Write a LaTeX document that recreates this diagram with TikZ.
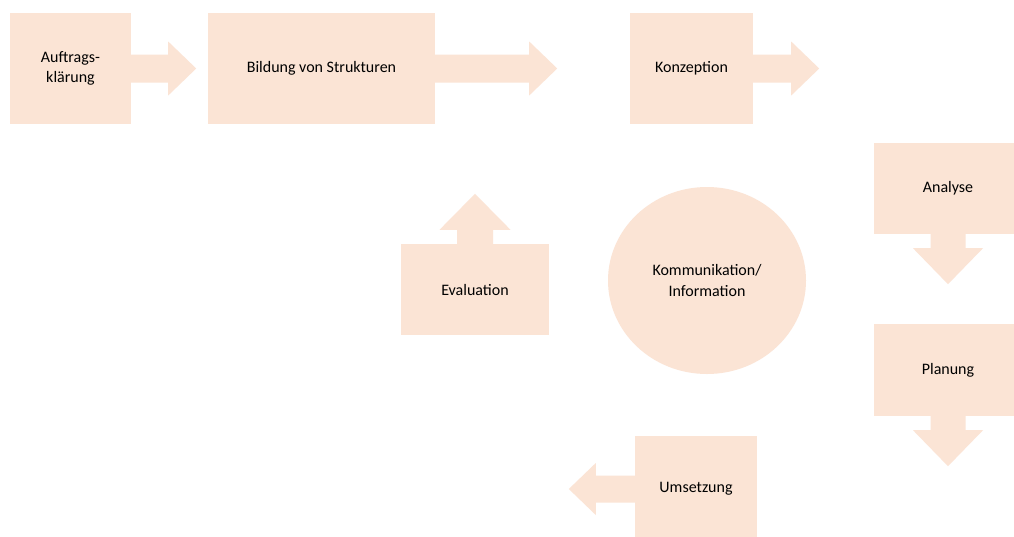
\documentclass[tikz,border=0pt]{standalone}
\usepackage{fontspec}
\setmainfont{Carlito}
\usetikzlibrary{shapes.geometric}
\definecolor{pfirsich}{HTML}{FBE4D5}

\begin{document}
\begin{tikzpicture}[x=1pt,y=-1pt,
    feld/.style={fill=pfirsich,inner sep=0pt,align=center,text=black,font=\fontsize{16}{20.5}\selectfont},
    pfeil/.style={fill=pfirsich}]
    \useasboundingbox (0,0) rectangle (1014,536);
    \clip (0,0) rectangle (1014,536);
    \fill[white] (0,0) rectangle (1014,536);

    % Felder
    \node[feld,minimum width=121pt,minimum height=111pt] (auftrag) at (70.5,68.5) {Auftrags-\\klärung};
    \node[feld,minimum width=227pt,minimum height=111pt] (bildung) at (321.5,68.5) {Bildung von Strukturen};
    \node[feld,minimum width=123pt,minimum height=111pt] (konzeption) at (691.5,68.5) {Konzeption};
    \node[feld,minimum width=148pt,minimum height=91pt] (analyse) at (948,188.5) {Analyse};
    \node[feld,minimum width=148pt,minimum height=92pt] (planung) at (948,370) {Planung};
    \node[feld,minimum width=122pt,minimum height=106pt] (umsetzung) at (696,489) {Umsetzung};
    \node[feld,minimum width=148pt,minimum height=91pt] (evaluation) at (475,289.5) {Evaluation};
    \node[feld,ellipse,minimum width=198pt,minimum height=187pt] (kommunikation) at (707,280.5) {Kommunikation/\\Information};

    % Pfeile
    \fill[pfeil] (auftrag.east) ++(-1,-14) -- ++(38,0) -- ++(0,-13) -- ++(28,27) -- ++(-28,27) -- ++(0,-13) -- ++(-38,0) -- cycle;
    \fill[pfeil] (bildung.east) ++(-1,-14) -- ++(95,0) -- ++(0,-13) -- ++(28,27) -- ++(-28,27) -- ++(0,-13) -- ++(-95,0) -- cycle;
    \fill[pfeil] (konzeption.east) ++(-1,-14) -- ++(39,0) -- ++(0,-13) -- ++(28,27) -- ++(-28,27) -- ++(0,-13) -- ++(-39,0) -- cycle;
    \fill[pfeil] (analyse.south) ++(-17.5,-1) -- ++(0,15) -- ++(-17.5,0) -- ++(35,36) -- ++(35,-36) -- ++(-17.5,0) -- ++(0,-15) -- cycle;
    \fill[pfeil] (planung.south) ++(-17.5,-1) -- ++(0,15) -- ++(-17.5,0) -- ++(35,36) -- ++(35,-36) -- ++(-17.5,0) -- ++(0,-15) -- cycle;
    \fill[pfeil] (umsetzung.west) ++(1,-13.5) -- ++(-40,0) -- ++(0,-12.5) -- ++(-27,26) -- ++(27,26) -- ++(0,-12.5) -- ++(40,0) -- cycle;
    \fill[pfeil] (evaluation.north) ++(-18,1) -- ++(0,-15) -- ++(-17.5,0) -- ++(35.5,-36) -- ++(35.5,36) -- ++(-17.5,0) -- ++(0,15) -- cycle;
\end{tikzpicture}
\end{document}
